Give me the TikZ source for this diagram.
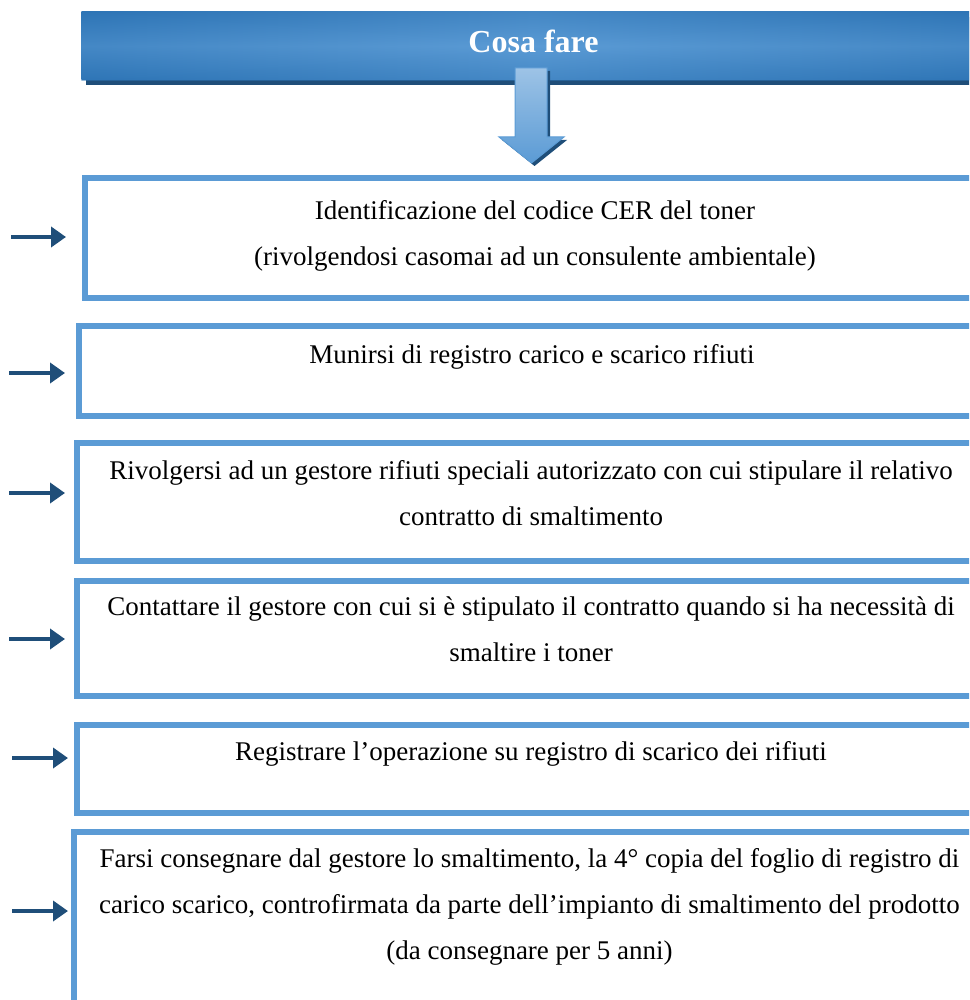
\documentclass[tikz,border=0pt]{standalone}
\usepackage{fontspec}
\setmainfont{Liberation Serif}
\usepackage{tikz}
\usetikzlibrary{positioning}
\usetikzlibrary{arrows.meta}

\definecolor{boxblue}{HTML}{5B9BD5}
\definecolor{darkblue}{HTML}{1F4E79}
\definecolor{headblue}{HTML}{2E75B6}
\definecolor{paleblue}{HTML}{9DC3E6}

\tikzset{
  stepbox/.style={draw=boxblue, line width=6pt, inner sep=0pt, outer sep=0pt, minimum width=908pt},
  steptext/.style={align=center, inner sep=0pt, font=\fontsize{27}{46}\selectfont},
  pointer/.style={draw=darkblue, line width=4.5pt, -{Triangle[length=15pt,width=20pt]}},
}

\begin{document}
\begin{tikzpicture}[x=1pt, y=-1pt]
\useasboundingbox (0,0) rectangle (969,1000);
\clip (0,0) rectangle (969,1000);
% title bar
\fill[darkblue] (86,17) rectangle (990,85);
\node[left color=headblue, right color=headblue, middle color=boxblue, minimum width=904pt, minimum height=68pt, inner sep=0pt] (head) at (533.5,46) {};
\shade[top color=headblue, bottom color=headblue, middle color=boxblue, fill opacity=0.5] (head.south west) rectangle (head.north east);
\node[text=white, text depth=10pt, inner sep=0pt, font=\fontsize{32}{38}\selectfont\bfseries] (title) at (head.center) {Cosa fare};
% big arrow
\fill[darkblue] (518,71) -- (550,71) -- (550,140) -- (567,140) -- (534.5,166) -- (502,140) -- (518,140) -- cycle;
\draw[boxblue, line width=1pt, top color=paleblue, bottom color=boxblue] (515,68) -- (547,68) -- (547,137) -- (564,137) -- (531.5,163) -- (499,137) -- (515,137) -- cycle;
% boxes
\node[stepbox, minimum width=900pt, minimum height=119.5pt] (b1) at (535,237.75) {};
\node[stepbox, minimum width=906pt, minimum height=90pt] (b2) at (532,371) {};
\node[stepbox, minimum height=118pt] (b3) at (531,502) {};
\node[stepbox, minimum height=115pt] (b4) at (531,638.5) {};
\node[stepbox, minimum height=88pt] (b5) at (531,769) {};
\node[stepbox, minimum width=911pt, minimum height=180pt] (b6) at (529.5,922) {};
% texts
\node[steptext, below=22pt of b1.north] (t1) {Identificazione del codice CER del toner\\(rivolgendosi casomai ad un consulente ambientale)};
\node[steptext, below=18pt of b2.north] (t2) {Munirsi di registro carico e scarico rifiuti};
\node[steptext, below=17pt of b3.north] (t3) {Rivolgersi ad un gestore rifiuti speciali autorizzato con cui stipulare il relativo\\contratto di smaltimento};
\node[steptext, below=16pt of b4.north] (t4) {Contattare il gestore con cui si è stipulato il contratto quando si ha necessità di\\smaltire i toner};
\node[steptext, below=16pt of b5.north] (t5) {Registrare l’operazione su registro di scarico dei rifiuti};
\node[steptext, below=16pt of b6.north] (t6) {Farsi consegnare dal gestore lo smaltimento, la 4° copia del foglio di registro di\\carico scarico, controfirmata da parte dell’impianto di smaltimento del prodotto\\(da consegnare per 5 anni)};
% arrows
\coordinate (p1) at (11,237);
\coordinate (p2) at (9,373);
\coordinate (p3) at (9,493);
\coordinate (p4) at (9,639);
\coordinate (p5) at (12,758);
\coordinate (p6) at (12,911);
\draw[pointer, shorten >=19pt] (p1) -- (p1 -| b1.west);
\draw[pointer, shorten >=14pt] (p2) -- (p2 -| b2.west);
\draw[pointer, shorten >=12pt] (p3) -- (p3 -| b3.west);
\draw[pointer, shorten >=12pt] (p4) -- (p4 -| b4.west);
\draw[pointer, shorten >=9pt] (p5) -- (p5 -| b5.west);
\draw[pointer, shorten >=6pt] (p6) -- (p6 -| b6.west);
\end{tikzpicture}
\end{document}
